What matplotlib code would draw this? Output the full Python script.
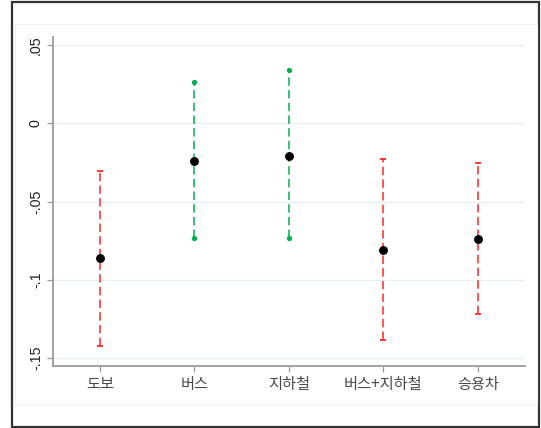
import matplotlib
matplotlib.use("Agg")
import matplotlib.pyplot as plt
from matplotlib.patches import Rectangle
import numpy as np

plt.rcParams['font.family'] = ['Noto Sans CJK KR', 'DejaVu Sans']

# Travel mode estimates with 95% confidence bounds
modes = ["도보", "버스", "지하철", "버스+지하철", "승용차"]
estimate = [-0.0863, -0.0241, -0.0209, -0.0810, -0.0742]
ci_low = [-0.1422, -0.0735, -0.0735, -0.1386, -0.1221]
ci_high = [-0.0303, 0.0262, 0.0339, -0.0228, -0.0256]
yticks = [0.05, 0.0, -0.05, -0.10, -0.15]
ytick_labels = [".05", "0", "-.05", "-.1", "-.15"]

RED = "#ff2626"
GREEN = "#00b050"
SPINE = "#9a9a9a"
GRID = "#e8f0f2"

W, H = 541, 428
fig = plt.figure(figsize=(W / 100, H / 100), dpi=100)
fig.patch.set_facecolor("white")

# outer frame and faint plot-region box
fig.patches.append(Rectangle((11.5 / W, 1 - 427 / H), (539 - 11.5) / W, (427 - 1.5) / H,
                             transform=fig.transFigure, fill=False,
                             edgecolor="#333333", linewidth=1.6, zorder=0))
fig.patches.append(Rectangle((14.5 / W, 1 - 404 / H), (537 - 14.5) / W, (404 - 24) / H,
                             transform=fig.transFigure, fill=False,
                             edgecolor="#eef2f4", linewidth=0.8, zorder=0))

ax = fig.add_axes([52.7 / W, 1 - 366 / H, (525 - 52.7) / W, (366 - 36.7) / H])
ax.set_facecolor("white")

x = np.arange(1, len(modes) + 1)
dash = (0, (5.5, 2.8))
for xi, est, lo, hi in zip(x, estimate, ci_low, ci_high):
    significant = hi < 0 or lo > 0
    col = RED if significant else GREEN
    ax.vlines(xi, lo, hi, colors=col, linewidth=1.1, linestyles=[dash], zorder=3)
    if significant:
        ax.plot([xi, xi], [lo, hi], linestyle="none", marker="_", markersize=4.8,
                markeredgewidth=1.3, color=col, zorder=3)
    else:
        ax.plot([xi, xi], [lo, hi], linestyle="none", marker="o", markersize=3.8,
                color=col, markeredgewidth=0, zorder=3)
    ax.plot(xi, est, marker="o", markersize=6.4, color="black",
            markeredgewidth=0, zorder=4)

ax.set_xlim(0.5, 5.5)
ax.set_ylim(-0.1551, 0.0553)

ax.set_yticks(yticks)
ax.set_yticklabels(ytick_labels, rotation=90, va="center",
                   family=["Liberation Sans", "DejaVu Sans"], fontsize=10.3, color="#222222")
ax.set_xticks(x)
ax.set_xticklabels(modes, fontsize=11, color="#4a4a4a", fontweight="light")

ax.grid(axis="y", color=GRID, linewidth=1.0, zorder=0)
ax.set_axisbelow(True)

for side in ("top", "right"):
    ax.spines[side].set_visible(False)
for side in ("left", "bottom"):
    ax.spines[side].set_color(SPINE)
    ax.spines[side].set_linewidth(1.3)

ax.tick_params(axis="y", length=4, width=0.9, color=SPINE, pad=3)
ax.tick_params(axis="x", length=4, width=0.9, color=SPINE, pad=3)

fig.savefig("out.png", dpi=100, facecolor="white")
